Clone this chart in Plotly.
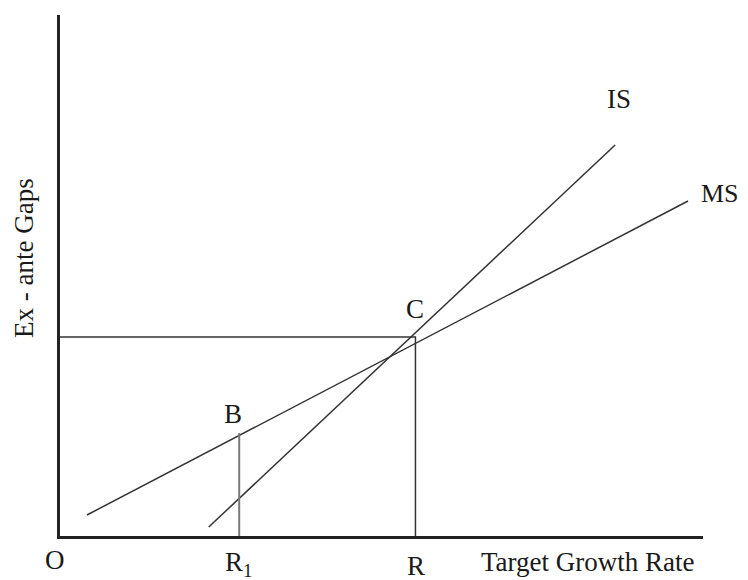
import plotly.graph_objects as go

# Diagram values (abstract units; origin O at 0,0)
is_x = [14.9, 55.6]
is_y = [0.9, 39.1]
ms_x = [2.7, 62.9]
ms_y = [2.1, 33.5]
r_value = 35.6
r1_value = 17.95
c_level = 19.9
b_level = 10.3
x_max = 64.4
y_max = 52.1

FONT = "Liberation Serif, Times New Roman, serif"
LINE = "#333333"

fig = go.Figure()
fig.add_trace(go.Scatter(x=is_x, y=is_y, mode="lines",
                         line=dict(color=LINE, width=1.5), hoverinfo="skip"))
fig.add_trace(go.Scatter(x=ms_x, y=ms_y, mode="lines",
                         line=dict(color=LINE, width=1.5), hoverinfo="skip"))
# box to C
fig.add_trace(go.Scatter(x=[0, r_value, r_value], y=[c_level, c_level, 0], mode="lines",
                         line=dict(color=LINE, width=1.5), hoverinfo="skip"))
# vertical at R1 up to B
fig.add_trace(go.Scatter(x=[r1_value, r1_value], y=[0, b_level], mode="lines",
                         line=dict(color="#777777", width=2), hoverinfo="skip"))

labels = [
    (r_value, 22.75, "C", 0, 27),
    (17.3, 12.2, "B", 0, 27),
    (56.0, 43.7, "IS", 0, 27),
    (66.1, 34.25, "MS", 0, 26),
    (52.9, -2.6, "Target Growth Rate", 0, 27),
    (-3.6, 27.8, "Ex - ante Gaps", -90, 27),
    (-0.5, -2.4, "O", 0, 27),
    (r1_value - 0.1, -2.8, "R<sub>1</sub>", 0, 27),
    (r_value + 0.1, -3.0, "R", 0, 27),
]
annotations = []
for lx, ly, txt, ang, fs in labels:
    annotations.append(dict(x=lx / x_max, y=ly / y_max, xref="paper", yref="paper",
                            text=txt, textangle=ang, showarrow=False,
                            font=dict(family=FONT, size=fs, color="#1a1a1a"),
                            xanchor="center", yanchor="middle"))

fig.update_layout(
    width=732, height=572,
    margin=dict(l=52, r=37, t=7, b=44),
    paper_bgcolor="white", plot_bgcolor="white",
    showlegend=False,
    annotations=annotations,
    xaxis=dict(range=[0, x_max], showgrid=False, zeroline=False,
               showline=True, linecolor="#222222", linewidth=2.5,
               showticklabels=False, ticks="", automargin=False, fixedrange=True),
    yaxis=dict(range=[0, y_max], showgrid=False, zeroline=False,
               showline=True, linecolor="#222222", linewidth=2.5,
               showticklabels=False, ticks="", automargin=False, fixedrange=True),
)

fig.write_html("out.html")
